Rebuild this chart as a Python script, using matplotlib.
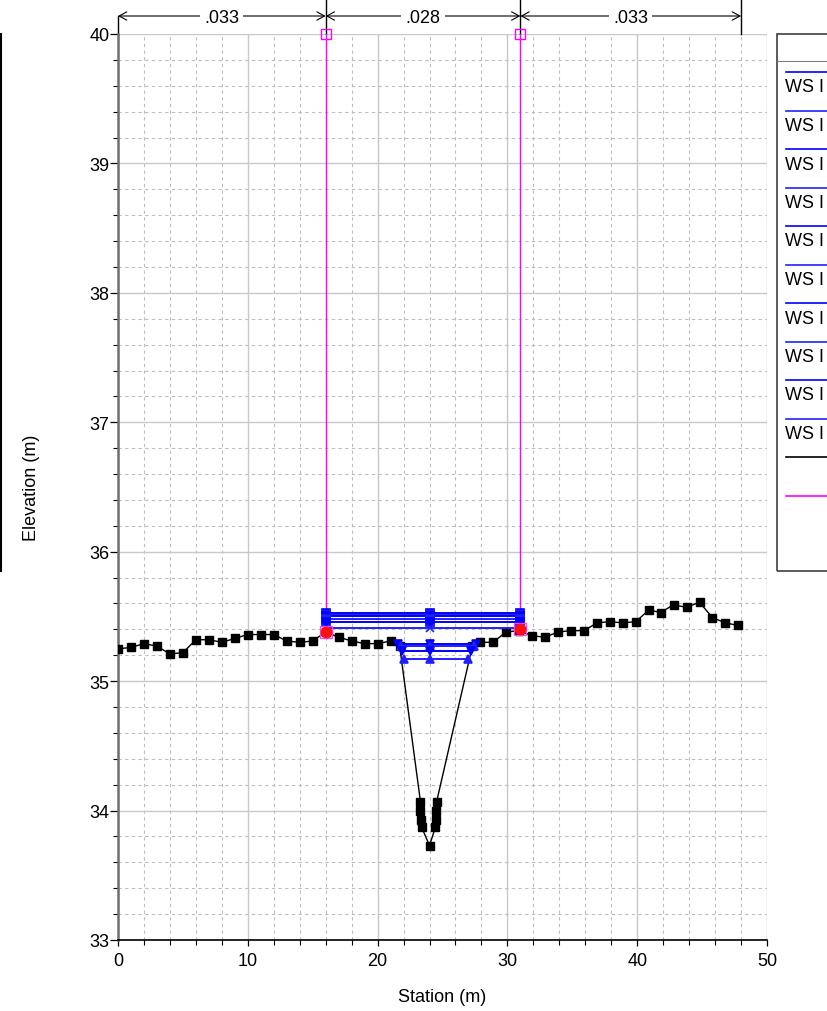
import numpy as np
import matplotlib.pyplot as plt
from matplotlib import transforms
from matplotlib.lines import Line2D
from matplotlib.patches import Rectangle
from matplotlib.ticker import MultipleLocator

plt.rcParams['font.family'] = ['Liberation Sans', 'DejaVu Sans']


#%% Data read off the cross section
ground_sta  = [0, 1, 2, 3, 4, 5, 6, 7, 8, 9, 10, 11, 12, 13, 14, 15, 16, 17, 18, 19, 20, 21, 21.7,
               23.3, 23.3, 23.35, 23.4, 24.0, 24.45, 24.5, 24.5, 24.55,
               27.3, 27.9, 28.9, 29.9, 30.9, 31.9, 32.9, 33.9, 34.9, 35.9, 36.9, 37.9, 38.9, 39.9,
               40.9, 41.8, 42.8, 43.8, 44.8, 45.8, 46.8, 47.8]
ground_elev = [35.25, 35.26, 35.29, 35.27, 35.21, 35.22, 35.32, 35.32, 35.30, 35.33, 35.36, 35.36,
               35.36, 35.31, 35.30, 35.31, 35.38, 35.34, 35.31, 35.29, 35.29, 35.31, 35.27,
               34.07, 34.00, 33.93, 33.87, 33.73, 33.87, 33.93, 34.00, 34.07,
               35.27, 35.30, 35.30, 35.38, 35.39, 35.35, 35.34, 35.38, 35.39, 35.39, 35.45, 35.46,
               35.45, 35.46, 35.55, 35.53, 35.59, 35.57, 35.61, 35.49, 35.45, 35.43]

bank_sta    = [16, 31]
bank_elev   = [35.38, 35.40]

n_edges     = [0, 16, 31, 48]
n_values    = ['.033', '.028', '.033']

# legend entries are cut off by the right edge of the picture: only "WS I" shows
ws_names    = ['WS I'] * 10
ws_elev     = [35.53, 35.51, 35.50, 35.48, 35.46, 35.41, 35.29, 35.27, 35.23, 35.17]
ws_left     = [16, 16, 16, 16, 16, 16, 21.6, 21.8, 21.9, 22.0]
ws_right    = [31, 31, 31, 31, 31, 31, 27.6, 27.4, 27.2, 27.0]
ws_marker   = ['s', 's', 's', 's', 's', 'x', 'v', '^', 'v', '^']
ws_color    = ['#0000ff', '#2020ff', '#0000ff', '#2020ff', '#0000ff',
               '#2020ff', '#0000ff', '#2020ff', '#0000ff', '#2020ff']
ws_mid      = 24.0


#%% Figure and axes
W, H = 827, 1012
fig = plt.figure(figsize=(W/100, H/100), dpi=100)
ax  = fig.add_axes([118/W, 1 - 941/H, (767 - 118)/W, (941 - 35)/H])

ax.set_xlim(0, 50)
ax.set_ylim(33, 40)
ax.xaxis.set_major_locator(MultipleLocator(10))
ax.xaxis.set_minor_locator(MultipleLocator(2))
ax.yaxis.set_major_locator(MultipleLocator(1))
ax.yaxis.set_minor_locator(MultipleLocator(0.2))

ax.grid(which='major', color='#c8c8c8', lw=1.0, ls='-')
ax.grid(which='minor', color='#bdbdbd', lw=0.8, ls=(0, (3, 3)))
ax.set_axisbelow(True)

for s in ['top', 'right']:
    ax.spines[s].set_visible(False)
ax.spines['left'].set_color('#707070')
ax.spines['left'].set_linewidth(1.8)
ax.spines['bottom'].set_color('black')
ax.spines['bottom'].set_linewidth(1.2)

ax.tick_params(axis='y', which='major', direction='out', length=5.8, width=0.9, pad=0.5, labelsize=13)
ax.tick_params(axis='y', which='minor', direction='out', length=3.6, width=0.8)
ax.tick_params(axis='x', which='major', direction='out', length=4.3, width=0.9, pad=4, labelsize=13)
ax.tick_params(axis='x', which='minor', direction='out', length=3.6, width=0.8)


#%% Bank stations
for s, e in zip(bank_sta, bank_elev):
    ax.plot([s, s], [e, 40], color='#ff00ff', lw=1.0, zorder=3, clip_on=False)
    ax.plot(s, 40, 's', mfc='none', mec='#ff00ff', ms=7.5, mew=1.0, zorder=6, clip_on=False)
    ax.plot(s, e, 's', mfc='none', mec='#ff40ff', ms=8.5, mew=0.9, zorder=6)
    ax.plot(s, e, 'o', color='#ff1010', ms=7.5, zorder=6)


#%% Ground
ax.plot(ground_sta, ground_elev, color='black', lw=1.0, marker='s', ms=6.3, zorder=4)


#%% Water surfaces
for e, l, r, m, c in zip(ws_elev, ws_left, ws_right, ws_marker, ws_color):
    ax.plot([l, ws_mid, r], [e, e, e], color=c, lw=1.4, marker=m, ms=6, mew=1.2, zorder=5)


#%% Manning's n band above the axes
trans = transforms.blended_transform_factory(ax.transData, ax.transAxes)
y_arr = 1 + 18/906
y_top = 1 + 35/906
for x0, x1, val in zip(n_edges[:-1], n_edges[1:], n_values):
    ax.annotate('', xy=(x1, y_arr), xytext=(x0, y_arr), xycoords=trans, textcoords=trans,
                arrowprops=dict(arrowstyle='<->,head_length=0.55,head_width=0.3',
                                color='black', lw=0.8, shrinkA=0, shrinkB=0),
                annotation_clip=False)
    ax.text((x0 + x1)/2, y_arr - 0.002, val, transform=trans, ha='center', va='center', fontsize=13,
            bbox=dict(fc='white', ec='none', pad=3), clip_on=False, zorder=7)
ax.plot([n_edges[0]]*2, [1.0, y_arr], transform=trans, color='black', lw=1.0, clip_on=False)
for x in n_edges[1:]:
    ax.plot([x, x], [1.0, y_top + 0.01], transform=trans, color='black', lw=1.0, clip_on=False)


#%% Legend box, cut off at the right edge
def fx(px):
    return px / W

def fy(py):
    return 1 - py / H

fig.add_artist(Rectangle((fx(777), fy(572)), fx(120), fy(35) - fy(572), transform=fig.transFigure,
                         fill=False, ec='#404040', lw=1.2))
fig.add_artist(Line2D([fx(777), 1], [fy(62), fy(62)], color='#808080', lw=0.8))
for i, (name, c) in enumerate(zip(ws_names, ws_color)):
    yl = 73 + 38.5*i
    fig.add_artist(Line2D([fx(786), 1], [fy(yl), fy(yl)], color=c, lw=1.2))
    fig.text(fx(785), fy(yl + 15), name, fontsize=13, ha='left', va='center')
fig.add_artist(Line2D([fx(786), 1], [fy(458), fy(458)], color='black', lw=1.2))
fig.add_artist(Line2D([fx(786), 1], [fy(497), fy(497)], color='#ff00ff', lw=1.2))

# edge of the neighbouring panel on the left
fig.add_artist(Line2D([fx(0.8), fx(0.8)], [fy(35), fy(572)], color='black', lw=1.5))


#%% Axis labels
fig.text(fx(442), fy(998), 'Station (m)', fontsize=13, ha='center', va='center')
fig.text(fx(32), fy(488), 'Elevation (m)', fontsize=13, ha='center', va='center', rotation=90)

fig.savefig('out.png', dpi=100)
